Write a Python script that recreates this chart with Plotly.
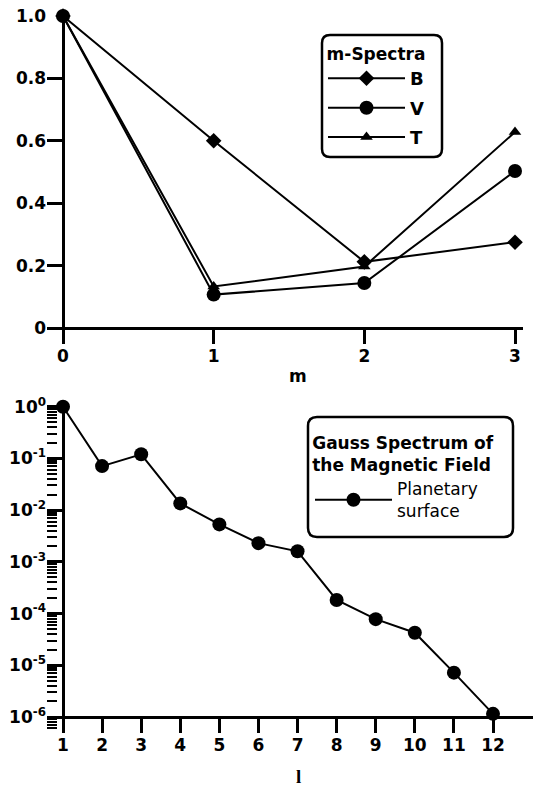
import plotly.graph_objects as go

# ---- data: top panel (m-spectra) ----
m_vals = [0, 1, 2, 3]
B_vals = [1.0, 0.60, 0.212, 0.275]
V_vals = [1.0, 0.107, 0.144, 0.503]
T_vals = [1.0, 0.133, 0.197, 0.628]
top_yticks = [0, 0.2, 0.4, 0.6, 0.8, 1.0]
top_yticktext = ["0", "0.2", "0.4", "0.6", "0.8", "1.0"]

# ---- data: bottom panel (Gauss spectrum) ----
l_vals = [1, 2, 3, 4, 5, 6, 7, 8, 9, 10, 11, 12]
gauss_vals = [1.0, 0.071, 0.12, 0.0135, 0.0053, 0.0023, 0.0016,
              1.83e-4, 7.8e-5, 4.26e-5, 7.2e-6, 1.15e-6]
bot_yticks = [1e0, 1e-1, 1e-2, 1e-3, 1e-4, 1e-5, 1e-6]
bot_yticktext = ["10<sup>0</sup>", "10<sup>-1</sup>", "10<sup>-2</sup>", "10<sup>-3</sup>",
                 "10<sup>-4</sup>", "10<sup>-5</sup>", "10<sup>-6</sup>"]

W, H = 539, 786
def px(x):
    return x / W
def py(y):
    return 1 - y / H

FONT = "DejaVu Sans, Arial, sans-serif"
TICKFONT = dict(family=FONT, size=17, color="black")
TL = 16  # major tick length (px)

fig = go.Figure()

line = dict(color="black", width=2)
fig.add_trace(go.Scatter(x=m_vals, y=B_vals, name="<b>B</b>", mode="lines+markers",
                         line=line, marker=dict(symbol="diamond", size=12, color="black"),
                         xaxis="x", yaxis="y", legend="legend", legendgroup="b",
                         cliponaxis=False))
fig.add_trace(go.Scatter(x=m_vals, y=V_vals, name="<b>V</b>", mode="lines+markers",
                         line=line, marker=dict(symbol="circle", size=14, color="black"),
                         xaxis="x", yaxis="y", legend="legend", legendgroup="v",
                         cliponaxis=False))
fig.add_trace(go.Scatter(x=m_vals, y=T_vals, name="<b>T</b>", mode="lines+markers",
                         line=line, marker=dict(symbol="triangle-up", size=11, color="black"),
                         xaxis="x", yaxis="y", legend="legend", legendgroup="t",
                         cliponaxis=False))

fig.add_trace(go.Scatter(x=l_vals, y=gauss_vals, name="Planetary<br>surface", mode="lines+markers",
                         line=line, marker=dict(symbol="circle", size=14, color="black"),
                         xaxis="x2", yaxis="y2", legend="legend2", cliponaxis=False))

# empty helper trace so the minor-tick axis (y3) gets its own overlay subplot
fig.add_trace(go.Scatter(x=[], y=[], xaxis="x2", yaxis="y3", showlegend=False,
                         hoverinfo="skip"))

def bold(lst):
    return ["<b>%s</b>" % s for s in lst]

base = dict(showgrid=False, tickfont=TICKFONT, automargin=False, showline=False,
            fixedrange=True, ticks="inside", ticklen=TL, tickwidth=3, tickcolor="black")

top_xpx = (515 - 63) / 3.0          # px per unit m
top_ypx = (328 - 16) / 1.0          # px per unit value
bot_xpx = (493 - 63) / 11.0         # px per unit l
bot_ypx = (717 - 406.7) / 6.0       # px per decade
bot_yrange = [-6 - TL / bot_ypx, (406.7 - 404) / bot_ypx]

fig.update_layout(
    width=W, height=H,
    margin=dict(l=0, r=0, t=0, b=0),
    paper_bgcolor="white", plot_bgcolor="rgba(0,0,0,0)",
    template="none",
    dragmode=False,
    showlegend=True,
    xaxis=dict(domain=[px(63 - TL), px(523)],
               range=[-TL / top_xpx, (523 - 63) / top_xpx], anchor="y",
               tickvals=m_vals, ticktext=bold([str(v) for v in m_vals]),
               zeroline=True, zerolinecolor="black", zerolinewidth=3, **base),
    yaxis=dict(domain=[py(328 + TL), py(16)],
               range=[-TL / top_ypx, 1.0], anchor="x",
               tickvals=top_yticks, ticktext=bold(top_yticktext),
               zeroline=True, zerolinecolor="black", zerolinewidth=3, **base),
    xaxis2=dict(domain=[px(63 - TL), px(533)],
                range=[1 - TL / bot_xpx, 1 + (533 - 63) / bot_xpx], anchor="y2",
                tickvals=l_vals, ticktext=bold([str(v) for v in l_vals]),
                zeroline=False,
                minor=dict(tickmode="array", tickvals=[l_vals[0]], ticks="",
                           showgrid=True, gridcolor="black", gridwidth=3),
                **base),
    yaxis2=dict(domain=[py(717 + TL), py(404)], type="log",
                range=bot_yrange, anchor="x2",
                tickvals=bot_yticks, ticktext=bold(bot_yticktext),
                zeroline=False,
                minor=dict(tickmode="array", tickvals=[bot_yticks[-1]], ticks="",
                           showgrid=True, gridcolor="black", gridwidth=3),
                **base),
    yaxis3=dict(overlaying="y2", anchor="x2", side="left",
                type="log", range=bot_yrange,
                dtick="D1", ticks="inside", ticklen=10, tickwidth=2, tickcolor="black",
                showticklabels=False, showline=False, showgrid=False, zeroline=False,
                automargin=False, fixedrange=True),
    legend=dict(x=px(323), y=py(38), xanchor="left", yanchor="top",
                bgcolor="rgba(0,0,0,0)", borderwidth=0,
                title=dict(text="<b>m-Spectra</b>", side="top center",
                           font=dict(family=FONT, size=17, color="black")),
                font=dict(family=FONT, size=18, color="black"),
                itemwidth=77, tracegroupgap=3),
    legend2=dict(x=px(310), y=py(427), xanchor="left", yanchor="top",
                 bgcolor="rgba(0,0,0,0)", borderwidth=0,
                 title=dict(text="<b>Gauss Spectrum of<br>the Magnetic Field</b>", side="top center",
                            font=dict(family=FONT, size=17, color="black")),
                 font=dict(family=FONT, size=17, color="black"),
                 itemwidth=77),
)

def rounded_rect(x0, y0, x1, y1, r):
    X = lambda v: px(v)
    Y = lambda v: py(v)
    return (f"M {X(x0+r)} {Y(y0)} L {X(x1-r)} {Y(y0)} Q {X(x1)} {Y(y0)} {X(x1)} {Y(y0+r)} "
            f"L {X(x1)} {Y(y1-r)} Q {X(x1)} {Y(y1)} {X(x1-r)} {Y(y1)} "
            f"L {X(x0+r)} {Y(y1)} Q {X(x0)} {Y(y1)} {X(x0)} {Y(y1-r)} "
            f"L {X(x0)} {Y(y0+r)} Q {X(x0)} {Y(y0)} {X(x0+r)} {Y(y0)} Z")

fig.add_shape(type="path", xref="paper", yref="paper",
              path=rounded_rect(322, 35, 442, 157, 8), line=dict(color="black", width=2.5))
fig.add_shape(type="path", xref="paper", yref="paper",
              path=rounded_rect(308, 417, 513, 537, 9), line=dict(color="black", width=2.5))

fig.add_annotation(text="<b>m</b>", x=px(298), y=py(376), xref="paper", yref="paper",
                   showarrow=False, font=dict(family=FONT, size=17, color="black"))
fig.add_annotation(text="<b>l</b>", x=px(298), y=py(789), xref="paper", yref="paper",
                   yanchor="bottom", showarrow=False,
                   font=dict(family="Liberation Serif, Times New Roman, serif",
                             size=19, color="black"))

fig.write_html("out.html", config={"staticPlot": True},
               post_script="document.body.style.margin='0px';")
